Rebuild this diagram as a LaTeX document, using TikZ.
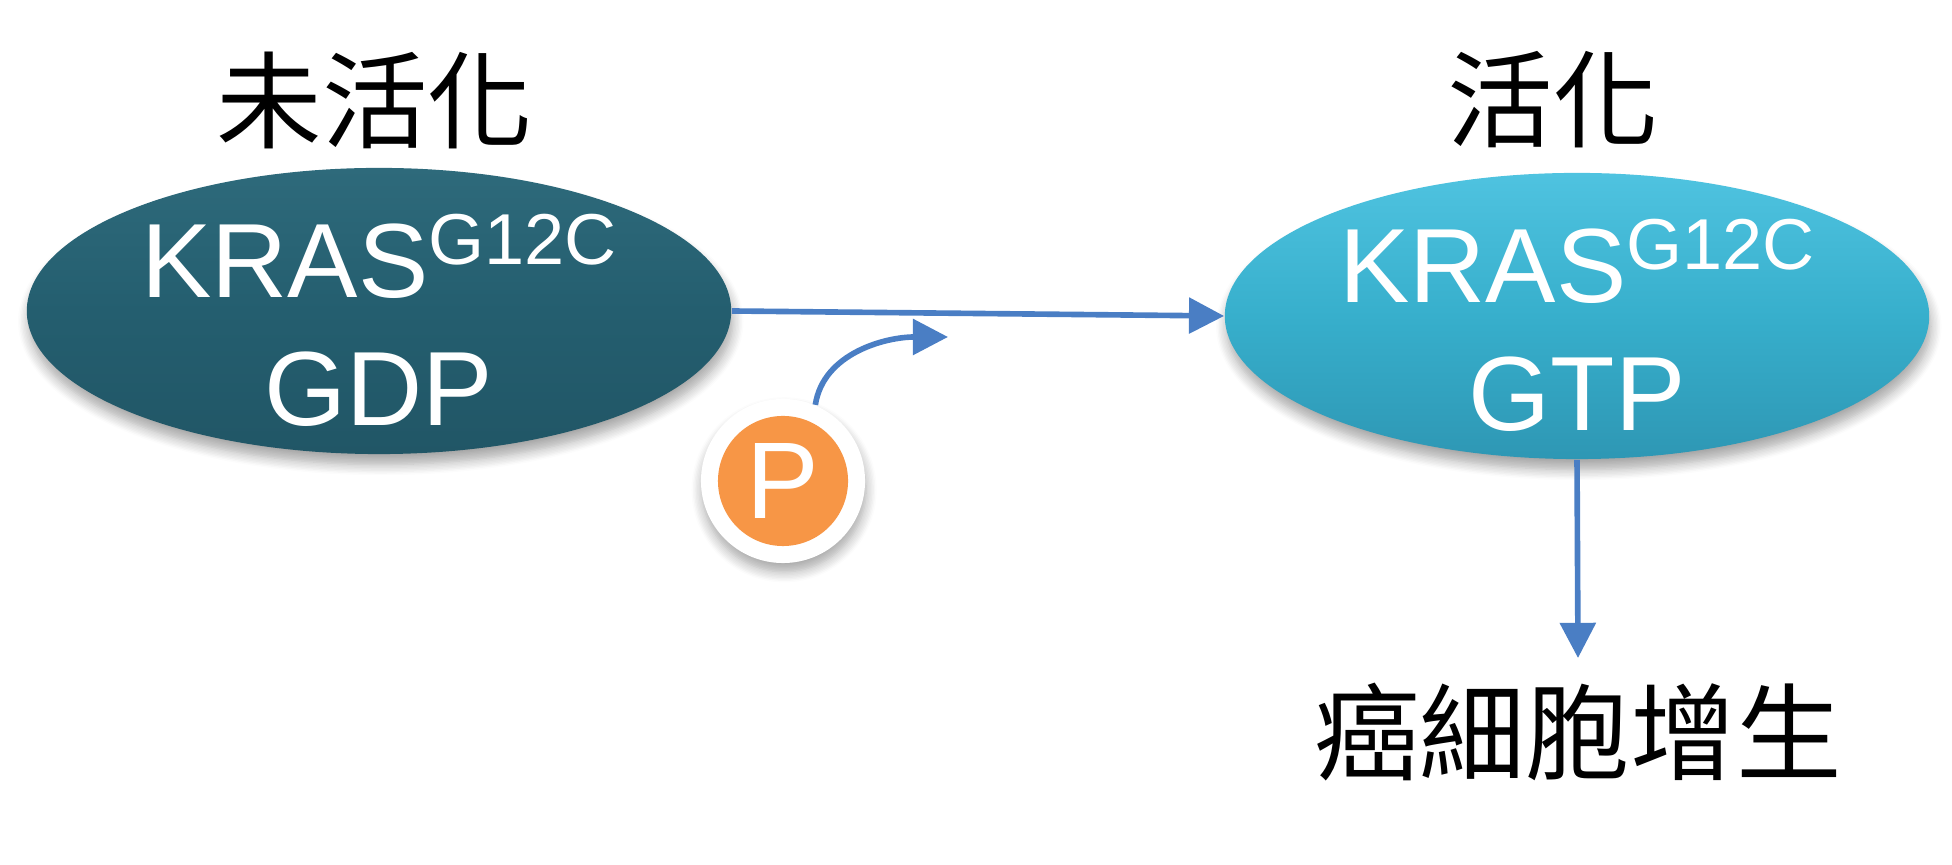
\documentclass[tikz,border=0pt]{standalone}
\usepackage{fontspec}
\newfontfamily\arial{Liberation Sans}
\newfontfamily\cjk{Noto Sans CJK TC}
\usetikzlibrary{shapes.geometric,arrows.meta,shadows.blur,calc}
\definecolor{arrblue}{HTML}{4A7EC4}
\definecolor{porange}{HTML}{F79646}
\definecolor{dtop}{HTML}{2E6A7B}
\definecolor{dmid}{HTML}{245E6F}
\definecolor{dbot}{HTML}{215666}
\definecolor{ltop}{HTML}{4FC3E0}
\definecolor{lmid}{HTML}{37AFCC}
\definecolor{lbot}{HTML}{2E97B4}
\tikzset{
  arr/.style={draw=arrblue, line width=1.6pt, -{Triangle[length=10pt,width=10pt]}},
  oval/.style={ellipse, minimum width=7.04cm, minimum height=2.86cm, inner sep=0pt,
    blur shadow={shadow blur steps=8, shadow xshift=0.5pt, shadow yshift=-3pt, shadow opacity=35, shadow blur radius=3pt}},
  darkoval/.style={oval, top color=dtop, bottom color=dbot, middle color=dmid},
  lightoval/.style={oval, top color=ltop, bottom color=lbot, middle color=lmid},
  ktext/.style={text=white, inner sep=0pt, anchor=base, font=\arial\fontsize{30}{36}\selectfont},
  title/.style={inner sep=0pt, font=\cjk\fontsize{30}{36}\selectfont},
}
\newcommand{\krasgc}{KRAS\raisebox{9.5pt}{\fontsize{20.5}{24}\selectfont G12C}}
\begin{document}
\begin{tikzpicture}[x=0.01cm, y=-0.01cm]
\useasboundingbox (0,0) rectangle (1952,865);
% titles
\node[title] (t1) at (375,100) {未活化};
\node[title] (t2) at (1553,100) {活化};
% ellipses
\node[darkoval] (L) at (379,311) {};
\node[lightoval] (R) at (1577,316) {};
\node[ktext] (L1) at ($(L.center)+(0,-13)$) {\krasgc};
\node[ktext] (L2) at ($(L.center)+(0,115)$) {GDP};
\node[ktext] (R1) at ($(R.center)+(0,-13)$) {\krasgc};
\node[ktext] (R2) at ($(R.center)+(0,115)$) {GTP};
% P circle
\node[circle, fill=white, minimum size=1.64cm, inner sep=0pt,
  blur shadow={shadow blur steps=8, shadow xshift=0.3pt, shadow yshift=-2.5pt, shadow opacity=35, shadow blur radius=3pt}] (Pring) at (783,481) {};
\node[circle, fill=porange, minimum size=1.30cm, inner sep=0pt, text=white,
  font=\arial\fontsize{31}{36}\selectfont] (P) at (Pring.center) {P};
% result
\node[title, anchor=north, inner ysep=6.8pt] (T) at (1578,658) {癌細胞增生};
% connectors
\coordinate (tipc) at (948,337);
\draw[arr] (L.east) -- (R.west);
\draw[arr] (Pring.67) .. controls +(8,-52) and +(-62,0) .. (tipc);
\draw[arr] (R.south) -- (T.north);
\end{tikzpicture}
\end{document}
